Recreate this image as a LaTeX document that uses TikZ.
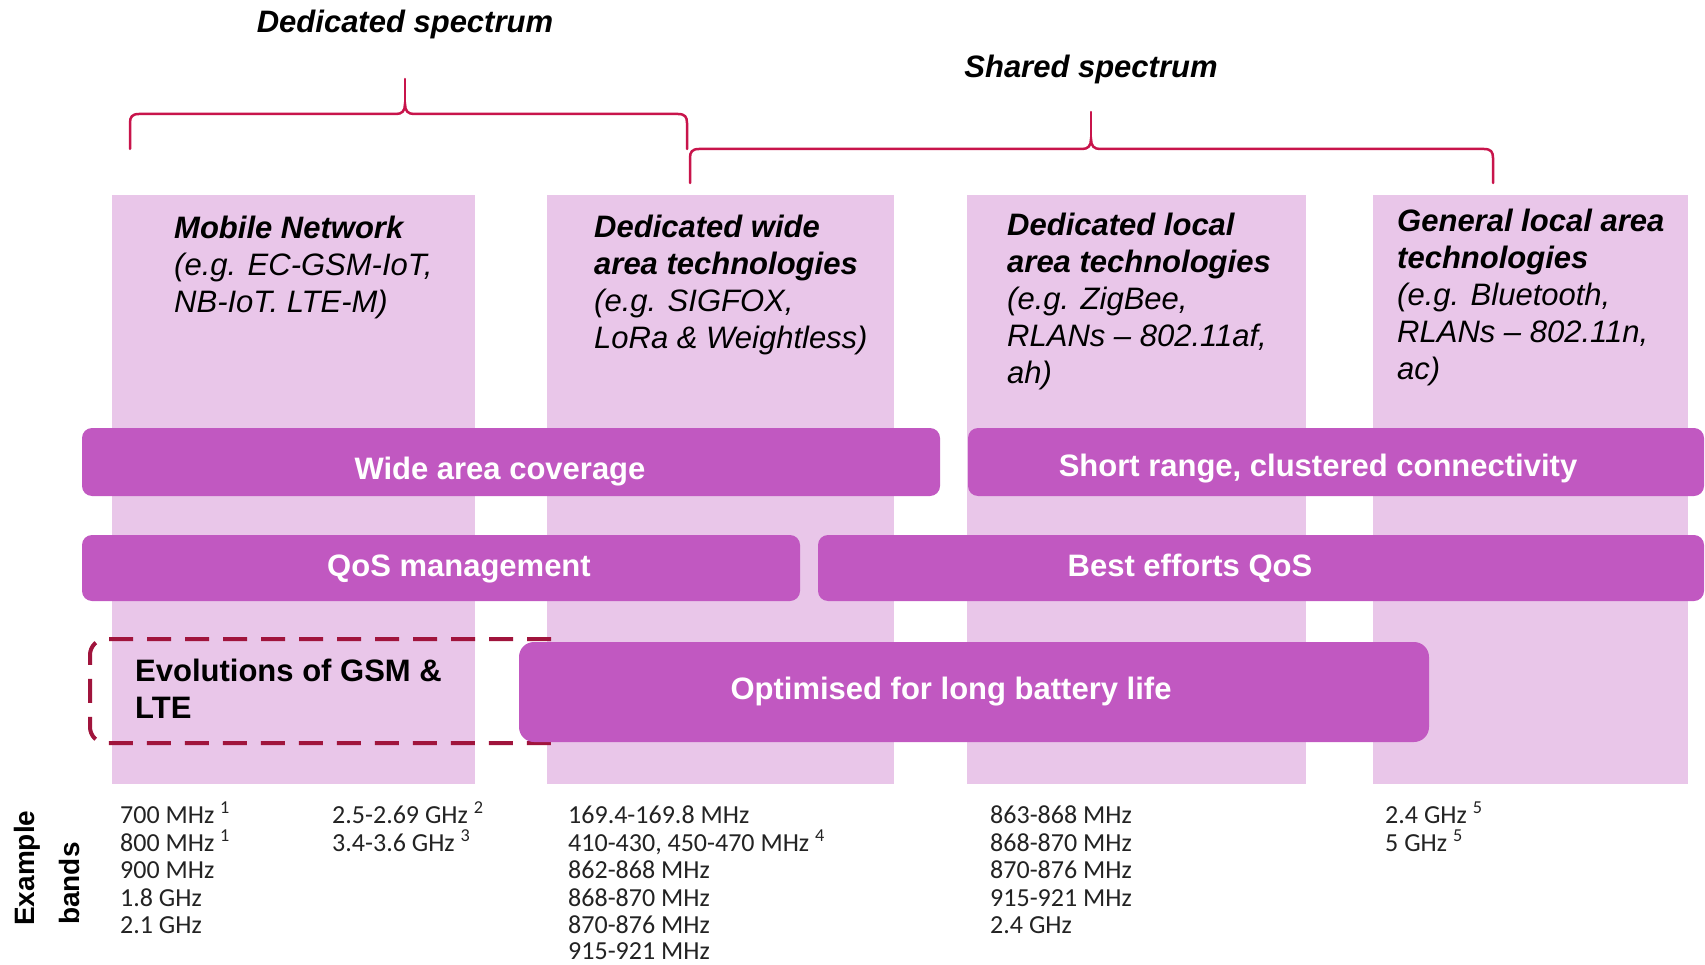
\documentclass[tikz,border=0pt]{standalone}
\usepackage{fontspec}
\setmainfont{Liberation Sans}
\newfontfamily\bandfont{Carlito}
\definecolor{colbg}{RGB}{233,198,233}
\definecolor{barc}{RGB}{193,88,193}
\definecolor{bracec}{RGB}{200,20,75}
\definecolor{dashc}{RGB}{160,20,60}
\definecolor{bandtxt}{RGB}{35,35,35}
\begin{document}
\begin{tikzpicture}[x=1pt,y=-1pt,
  colbox/.style={fill=colbg},
  bar/.style={fill=barc, rounded corners=10pt},
  bartext/.style={anchor=base, text=white, inner sep=0, font=\fontsize{31}{37}\selectfont\bfseries},
  coltext/.style={anchor=base west, inner sep=0, font=\fontsize{31}{37}\selectfont\itshape},
  coltitle/.style={anchor=base west, inner sep=0, font=\fontsize{31}{37}\selectfont\bfseries\itshape},
  headtext/.style={anchor=base, inner sep=0, font=\fontsize{31}{37}\selectfont\bfseries\itshape},
  bandtext/.style={anchor=base west, inner sep=0, text=bandtxt, font=\bandfont\fontsize{26}{28}\selectfont},
  bracep/.style={draw=bracec, line width=2.5pt, line cap=round},
]
\useasboundingbox (0,0) rectangle (1705,965);
\fill[white] (0,0) rectangle (1705,965);

% headings and braces
\node[headtext] (hded) at (405,33) {Dedicated spectrum};
\node[headtext] (hsha) at (1091,78) {Shared spectrum};
\draw[bracep] (130,149) -- (130,123) .. controls (130,117) and (132,114) .. (139,114) -- (396,114) .. controls (402,114) and (405,111) .. (405,104) .. controls (405,111) and (408,114) .. (414,114) -- (678,114) .. controls (685,114) and (687,117) .. (687,123) -- (687,149);
\draw[bracep] (405,104) -- (405,79);
\draw[bracep] (690,183) -- (690,158) .. controls (690,152) and (692,149) .. (699,149) -- (1082,149) .. controls (1088,149) and (1091,146) .. (1091,139) .. controls (1091,146) and (1094,149) .. (1100,149) -- (1484,149) .. controls (1491,149) and (1493,152) .. (1493,158) -- (1493,183);
\draw[bracep] (1091,139) -- (1091,112);

% columns
\fill[colbox] (112,195) rectangle (475,784);
\fill[colbox] (547,195) rectangle (894,784);
\fill[colbox] (967,195) rectangle (1306,784);
\fill[colbox] (1373,195) rectangle (1688,784);

% column texts
\node[coltitle] (c1a) at (174,239) {Mobile Network};
\node[coltext]  (c1b) at (174,276) {(e.g. EC-GSM-IoT,};
\node[coltext]  (c1c) at (174,313) {NB-IoT. LTE-M)};

\node[coltitle] (c2a) at (594,238) {Dedicated wide};
\node[coltitle] (c2b) at (594,275) {area technologies};
\node[coltext]  (c2c) at (594,312) {(e.g. SIGFOX,};
\node[coltext]  (c2d) at (594,349) {LoRa \& Weightless)};

\node[coltitle] (c3a) at (1007,236) {Dedicated local};
\node[coltitle] (c3b) at (1007,273) {area technologies};
\node[coltext]  (c3c) at (1007,310) {(e.g. ZigBee,};
\node[coltext]  (c3d) at (1007,347) {RLANs – 802.11af,};
\node[coltext]  (c3e) at (1007,384) {ah)};

\node[coltitle] (c4a) at (1397,232) {General local area};
\node[coltitle] (c4b) at (1397,269) {technologies};
\node[coltext]  (c4c) at (1397,306) {(e.g. Bluetooth,};
\node[coltext]  (c4d) at (1397,343) {RLANs – 802.11n,};
\node[coltext]  (c4e) at (1397,380) {ac)};

% bars
\fill[bar] (82,428) rectangle (940,496);
\node[bartext] (twide) at (500,479) {Wide area coverage};
\fill[bar] (968,428) rectangle (1704,496);
\node[bartext] (tshort) at (1318,476) {Short range, clustered connectivity};
\fill[bar] (82,535) rectangle (800,601);
\node[bartext] (tqos) at (459,576) {QoS management};
\fill[bar] (818,535) rectangle (1704,601);
\node[bartext] (tbest) at (1190,576) {Best efforts QoS};

% dashed box (open on the right, hidden under the battery bar)
\draw[dashc, line width=4pt, dash pattern=on 24pt off 14pt, rounded corners=16pt] (551,639) -- (90,639) -- (90,743) -- (551,743);
\node[anchor=base west, inner sep=0, font=\fontsize{31}{37}\selectfont\bfseries] (evo1) at (135,681) {Evolutions of GSM \&};
\node[anchor=base west, inner sep=0, font=\fontsize{31}{37}\selectfont\bfseries] (evo2) at (135,718) {LTE};

\fill[bar, rounded corners=15pt] (519,642) rectangle (1429,742);
\node[bartext] (topt) at (951,699) {Optimised for long battery life};

% example bands label
\node[rotate=90, anchor=west, inner sep=0, font=\fontsize{28}{34}\selectfont\bfseries] (exl1) at (27,926) {Example};
\node[rotate=90, anchor=west, inner sep=0, font=\fontsize{28}{34}\selectfont\bfseries] (exl2) at (69,925) {bands};

% band lists
\node[bandtext] (b1a) at (120,823) {700 MHz \textsuperscript{1}};
\node[bandtext] (b1b) at (120,851) {800 MHz \textsuperscript{1}};
\node[bandtext] (b1c) at (120,878) {900 MHz};
\node[bandtext] (b1d) at (120,906) {1.8 GHz};
\node[bandtext] (b1e) at (120,933) {2.1 GHz};

\node[bandtext] (b2a) at (332,823) {2.5-2.69 GHz \textsuperscript{2}};
\node[bandtext] (b2b) at (332,851) {3.4-3.6 GHz \textsuperscript{3}};

\node[bandtext] (b3a) at (568,823) {169.4-169.8 MHz};
\node[bandtext] (b3b) at (568,851) {410-430, 450-470 MHz \textsuperscript{4}};
\node[bandtext] (b3c) at (568,878) {862-868 MHz};
\node[bandtext] (b3d) at (568,906) {868-870 MHz};
\node[bandtext] (b3e) at (568,933) {870-876 MHz};
\node[bandtext] (b3f) at (568,959) {915-921 MHz};

\node[bandtext] (b4a) at (990,823) {863-868 MHz};
\node[bandtext] (b4b) at (990,851) {868-870 MHz};
\node[bandtext] (b4c) at (990,878) {870-876 MHz};
\node[bandtext] (b4d) at (990,906) {915-921 MHz};
\node[bandtext] (b4e) at (990,933) {2.4 GHz};

\node[bandtext] (b5a) at (1385,823) {2.4 GHz \textsuperscript{5}};
\node[bandtext] (b5b) at (1385,851) {5 GHz \textsuperscript{5}};
\end{tikzpicture}
\end{document}
